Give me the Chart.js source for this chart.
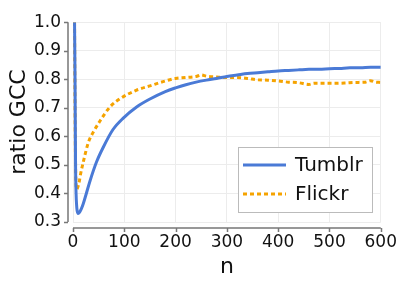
<!DOCTYPE html>
<html>
<head>
<meta charset="utf-8">
<script src="https://cdn.jsdelivr.net/npm/chart.js@4"></script>
<style>
  html, body { margin: 0; padding: 0; background: #fff; }
  #wrap { width: 407px; height: 285px; }
</style>
</head>
<body>
<div id="wrap"><canvas id="myChart" width="407" height="285"></canvas></div>
<script>
// values
const tumblrN = [3, 4, 5, 6, 7, 8, 10, 13, 16, 20, 26, 33, 46, 59, 78, 98, 124, 150, 180, 200,
    220, 240, 260, 280, 300, 320, 340, 360, 380, 400, 420, 440, 460, 480, 500, 520, 540, 560, 580, 600];
const tumblrRatio = [1.0, 0.8, 0.5, 0.4, 0.36, 0.34, 0.33, 0.335, 0.345, 0.364, 0.4, 0.443, 0.511, 0.562, 0.624,
    0.664, 0.703, 0.731, 0.757, 0.77, 0.781, 0.79, 0.797, 0.803, 0.81, 0.815, 0.82, 0.823,
    0.826, 0.829, 0.831, 0.833, 0.835, 0.835, 0.837, 0.838, 0.84, 0.84, 0.842, 0.842];

const flickrN = [3, 4, 5, 6, 7, 9, 12, 15, 20, 30, 39, 52, 72, 91, 124, 150, 180, 200,
    220, 240, 250, 260, 280, 300, 320, 340, 360, 380, 400, 420, 440, 460, 470, 490, 510, 530, 550, 570, 580, 590, 600];
const flickrRatio = [1.0, 0.7, 0.5, 0.43, 0.414, 0.42, 0.44, 0.47, 0.51, 0.579, 0.613, 0.652, 0.703, 0.731, 0.762,
    0.777, 0.794, 0.803, 0.806, 0.81, 0.815, 0.811, 0.808, 0.806, 0.806, 0.803,
    0.798, 0.797, 0.794, 0.79, 0.788, 0.782, 0.786, 0.786, 0.786, 0.787, 0.789, 0.79, 0.795, 0.79, 0.789];

const xTicks = [0, 100, 200, 300, 400, 500, 600];
const yTicks = [0.3, 0.4, 0.5, 0.6, 0.7, 0.8, 0.9, 1.0];

const BLUE = '#4a7ad6';
const ORANGE = '#f5a300';
const FONT = "'DejaVu Sans', sans-serif";

function toPoints(xs, ys) {
    return xs.map((x, i) => ({ x: x, y: ys[i] }));
}

// axis lines are drawn a few pixels away from the plot, like the original
const offsetAxes = {
    id: 'offsetAxes',
    afterDraw(chart) {
        const { ctx, chartArea, scales } = chart;
        ctx.save();
        ctx.strokeStyle = '#777';
        ctx.lineWidth = 1.5;
        const ax = chartArea.left - 5;
        const ay = chartArea.bottom + 6;
        ctx.beginPath();
        ctx.moveTo(ax, chartArea.top);
        ctx.lineTo(ax, chartArea.bottom);
        for (const v of yTicks) {
            const p = Math.round(scales.y.getPixelForValue(v)) + 0.5;
            ctx.moveTo(ax - 4, p);
            ctx.lineTo(ax, p);
        }
        ctx.moveTo(chartArea.left, ay);
        ctx.lineTo(chartArea.right, ay);
        for (const v of xTicks) {
            const p = Math.round(scales.x.getPixelForValue(v)) + 0.5;
            ctx.moveTo(p, ay);
            ctx.lineTo(p, ay + 4);
        }
        ctx.stroke();
        ctx.restore();
    }
};

// boxed legend inside the plot
const boxLegend = {
    id: 'boxLegend',
    afterDraw(chart) {
        const { ctx } = chart;
        const x0 = 238, y0 = 147.5, w = 134, h = 65;
        ctx.save();
        ctx.fillStyle = '#fff';
        ctx.fillRect(x0, y0, w, h);
        ctx.strokeStyle = '#bbb';
        ctx.lineWidth = 1;
        ctx.strokeRect(x0 + 0.5, y0, w, h);
        ctx.font = '20px ' + FONT;
        ctx.textBaseline = 'middle';
        ctx.fillStyle = '#111';
        chart.data.datasets.forEach((ds, i) => {
            const yy = y0 + 17.5 + i * 29;
            ctx.strokeStyle = ds.borderColor;
            ctx.lineWidth = 3;
            ctx.setLineDash(ds.borderDash || []);
            ctx.beginPath();
            ctx.moveTo(x0 + 5, yy);
            ctx.lineTo(x0 + 48, yy);
            ctx.stroke();
            ctx.setLineDash([]);
            ctx.fillText(ds.label, x0 + 57, yy + 1);
        });
        ctx.restore();
    }
};

const ctx = document.getElementById('myChart').getContext('2d');

const myChart = new Chart(ctx, {
    type: 'scatter',
    data: {
        datasets: [
            {
                label: 'Tumblr',
                data: toPoints(tumblrN, tumblrRatio),
                showLine: true,
                borderColor: BLUE,
                borderWidth: 3,
                pointRadius: 0,
                cubicInterpolationMode: 'monotone'
            },
            {
                label: 'Flickr',
                data: toPoints(flickrN, flickrRatio),
                showLine: true,
                borderColor: ORANGE,
                borderWidth: 3,
                borderDash: [4, 3],
                pointRadius: 0,
                cubicInterpolationMode: 'monotone'
            }
        ]
    },
    options: {
        responsive: false,
        animation: false,
        layout: { padding: { top: 16, right: 25, left: 0, bottom: 0 } },
        plugins: {
            legend: { display: false },
            tooltip: { enabled: false }
        },
        scales: {
            x: {
                type: 'linear',
                min: 0,
                max: 600,
                afterFit: (scale) => { scale.height = 63; },
                afterBuildTicks: (scale) => { scale.ticks = xTicks.map(v => ({ value: v })); },
                grid: { color: '#ececec', drawTicks: false },
                border: { display: false },
                ticks: {
                    padding: 10,
                    color: '#111',
                    font: { family: FONT, size: 17 },
                    maxRotation: 0
                },
                title: {
                    display: true,
                    text: 'n',
                    color: '#111',
                    font: { family: FONT, size: 22 },
                    padding: { top: 0, bottom: 5 }
                }
            },
            y: {
                min: 0.3,
                max: 1.0,
                afterFit: (scale) => { scale.width = 73; },
                afterBuildTicks: (scale) => { scale.ticks = yTicks.map(v => ({ value: v })); },
                grid: { color: '#ececec', drawTicks: false },
                border: { display: false },
                ticks: {
                    padding: 12,
                    color: '#111',
                    font: { family: FONT, size: 17 },
                    callback: (v) => v.toFixed(1)
                },
                title: {
                    display: true,
                    text: 'ratio GCC',
                    color: '#111',
                    font: { family: FONT, size: 22 },
                    padding: { top: 6, bottom: 0 }
                }
            }
        }
    },
    plugins: [offsetAxes, boxLegend]
});
</script>
</body>
</html>
